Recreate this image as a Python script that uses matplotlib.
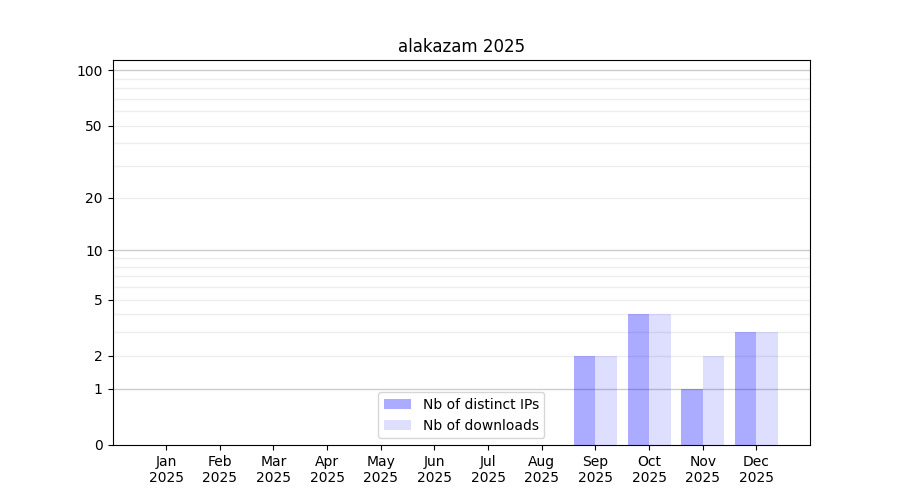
import numpy as np
import matplotlib
matplotlib.use("Agg")
import matplotlib.pyplot as plt

# ----------------------------
# Datos
# ----------------------------
meses = ["Jan", "Feb", "Mar", "Apr", "May", "Jun",
         "Jul", "Aug", "Sep", "Oct", "Nov", "Dec"]
anio = "2025"
ips = [0, 0, 0, 0, 0, 0, 0, 0, 2, 4, 1, 3]
descargas = [0, 0, 0, 0, 0, 0, 0, 0, 2, 4, 2, 3]
yticks = [0, 1, 2, 5, 10, 20, 50, 100]


def fwd(v):
    return np.log10(np.maximum(v, 0) + 1)


def inv(v):
    return 10 ** v - 1


x = np.arange(len(meses))
ancho = 0.4

fig, ax = plt.subplots(figsize=(9, 5), dpi=100)
ax.set_yscale("function", functions=(fwd, inv))

# rejilla: mayores en 1, 10, 100 y menores en el resto
for v in [1, 10, 100]:
    ax.axhline(v, color="#cccccc", lw=1, zorder=0)
for d in [1, 10]:
    for m in range(2, 10):
        ax.axhline(m * d, color="#eeeeee", lw=1, zorder=0)

ax.bar(x - ancho / 2, ips, width=ancho, color="blue", alpha=0.33,
       label="Nb of distinct IPs", zorder=2)
ax.bar(x + ancho / 2, descargas, width=ancho, color="blue", alpha=0.13,
       label="Nb of downloads", zorder=2)

ax.set_yticks(yticks)
ax.set_yticklabels([str(v) for v in yticks])
ax.yaxis.set_minor_locator(matplotlib.ticker.NullLocator())
ax.set_ylim(0, 113.6)

ax.set_xticks(x)
ax.set_xticklabels([f"{m}\n{anio}" for m in meses])
ax.set_xlim(-1, 12)

ax.set_title("alakazam 2025")
ax.legend(loc="lower center")

plt.savefig("out.png", dpi=100)
